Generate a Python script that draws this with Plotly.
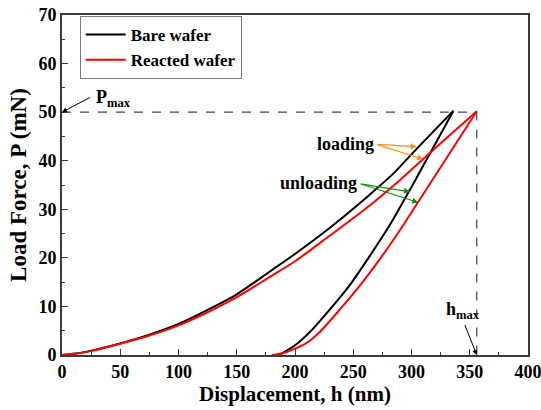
import plotly.graph_objects as go

# Bare wafer: loading and unloading branches
bare_load_h = [0, 12, 25, 50, 75, 100, 125, 150, 178.5, 200, 230, 250, 267, 285, 305, 336]
bare_load_p = [0, 0.3, 0.9, 2.4, 4.2, 6.4, 9.3, 12.5, 17.2, 20.8, 26.2, 30.1, 33.6, 37.5, 42.6, 50.3]
bare_unload_h = [336, 320, 300, 281.5, 265, 247, 230, 213, 200, 190, 186]
bare_unload_p = [50.3, 43.3, 34.6, 26.8, 20.7, 14.4, 9.4, 4.8, 2.0, 0.5, 0]

# Reacted wafer
reac_load_h = [0, 12, 25, 50, 75, 100, 125, 150, 178.5, 200, 230, 260, 290, 320, 356]
reac_load_p = [0, 0.3, 0.8, 2.3, 4.0, 6.1, 8.8, 11.9, 16.1, 19.3, 24.6, 30.0, 36.0, 42.5, 50.2]
reac_unload_h = [356, 330, 306, 287, 270, 256, 240, 221.5, 210, 200, 190, 180]
reac_unload_p = [50.2, 40.5, 31.6, 24.6, 18.8, 14.4, 9.8, 4.8, 2.5, 1.3, 0.4, 0]

p_max = 50
h_max = 356

x_ticks = [0, 50, 100, 150, 200, 250, 300, 350, 400]
y_ticks = [0, 10, 20, 30, 40, 50, 60, 70]

FONT = "Liberation Serif"

fig = go.Figure()
for name, color, lh, lp, uh, up in [
    ("Bare wafer", "black", bare_load_h, bare_load_p, bare_unload_h, bare_unload_p),
    ("Reacted wafer", "#ff0000", reac_load_h, reac_load_p, reac_unload_h, reac_unload_p),
]:
    fig.add_trace(go.Scatter(x=lh, y=lp, mode="lines", name=name, legendgroup=name,
                             line=dict(color=color, width=2, shape="spline", smoothing=0.8)))
    fig.add_trace(go.Scatter(x=uh, y=up, mode="lines", name=name, legendgroup=name,
                             showlegend=False,
                             line=dict(color=color, width=2, shape="spline", smoothing=0.8)))

# dashed guide lines
fig.add_trace(go.Scatter(x=[0, h_max, h_max], y=[p_max, p_max, 0], mode="lines",
                         line=dict(color="#444444", width=1.2, dash="dash"),
                         showlegend=False, hoverinfo="skip"))

bold = dict(family=FONT, size=18, color="black", weight="bold")

ann = []
# Pmax
ann.append(dict(x=44, y=52.8, xref="x", yref="y", text="P<sub>max</sub>", showarrow=False,
                font=dict(family=FONT, size=18, color="black", weight="bold")))
ann.append(dict(x=0, y=50, ax=25.5, ay=53.2, xref="x", yref="y", axref="x", ayref="y",
                showarrow=True, arrowhead=2, arrowsize=1, arrowwidth=1, arrowcolor="black", text=""))
# hmax
ann.append(dict(x=344, y=9.2, xref="x", yref="y", text="h<sub>max</sub>", showarrow=False,
                font=dict(family=FONT, size=18, color="black", weight="bold")))
ann.append(dict(x=356, y=0, ax=345.3, ay=6.5, xref="x", yref="y", axref="x", ayref="y",
                showarrow=True, arrowhead=2, arrowsize=1, arrowwidth=1, arrowcolor="black", text=""))
# loading
ann.append(dict(x=243.3, y=43.4, xref="x", yref="y", text="loading", showarrow=False, font=bold))
for hx, py in [(304.5, 42.9), (310.1, 40.3)]:
    ann.append(dict(x=hx, y=py, ax=269.5, ay=43.4, xref="x", yref="y", axref="x", ayref="y",
                    showarrow=True, arrowhead=2, arrowsize=1, arrowwidth=1.2,
                    arrowcolor="#ff8c1a", text=""))
# unloading
ann.append(dict(x=220, y=35.5, xref="x", yref="y", text="unloading", showarrow=False, font=bold))
for hx, py in [(298.7, 33.6), (305.8, 31.4)]:
    ann.append(dict(x=hx, y=py, ax=255.2, ay=35.3, xref="x", yref="y", axref="x", ayref="y",
                    showarrow=True, arrowhead=2, arrowsize=1, arrowwidth=1.2,
                    arrowcolor="#1a8c1a", text=""))

axis_common = dict(showgrid=False, zeroline=False, showline=True, mirror=True, automargin=False,
                   ticklabeloverflow="allow",
                   linecolor="#3a3a3a", linewidth=1.6, ticks="inside", ticklen=6, tickwidth=1.4,
                   tickcolor="#3a3a3a",
                   tickfont=dict(family=FONT, size=18, color="black", weight="bold"))

fig.update_layout(
    width=541, height=410, margin=dict(l=62, r=13, t=15, b=55),
    paper_bgcolor="white", plot_bgcolor="white",
    annotations=ann,
    legend=dict(x=0.038, y=0.997, xanchor="left", yanchor="top",
                bordercolor="#7a7a7a", borderwidth=1, bgcolor="white",
                font=dict(family=FONT, size=17, color="black", weight="bold"),
                tracegroupgap=0, itemwidth=40),
    xaxis=dict(range=[0, 400], tickvals=x_ticks, ticktext=[str(v) for v in x_ticks],
               minor=dict(ticks="inside", ticklen=3.5, tickwidth=1.2, tickcolor="#3a3a3a", dtick=25),
               title=dict(text="Displacement, h (nm)", standoff=4,
                          font=dict(family=FONT, size=21, color="black", weight="bold")),
               **axis_common),
    yaxis=dict(range=[0, 70], tickvals=y_ticks, ticktext=[str(v) for v in y_ticks],
               minor=dict(ticks="inside", ticklen=3.5, tickwidth=1.2, tickcolor="#3a3a3a", dtick=5),
               title=dict(text="Load Force, P (mN)", standoff=6,
                          font=dict(family=FONT, size=23, color="black", weight="bold")),
               **axis_common),
)

fig.write_html("out.html")
